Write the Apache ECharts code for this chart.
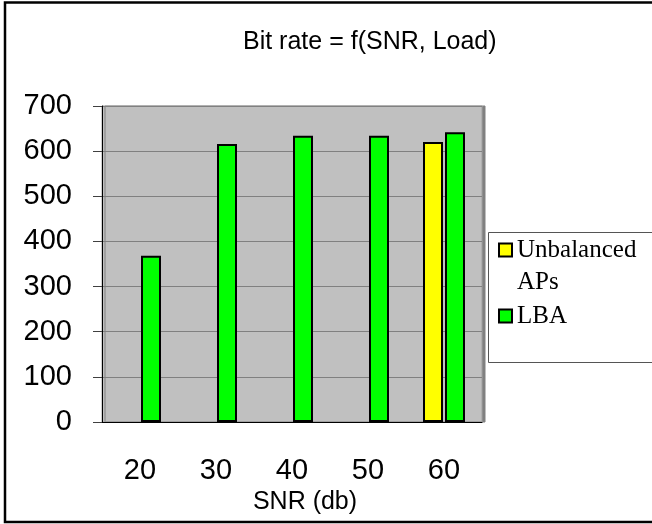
<!DOCTYPE html>
<html>
<head>
<meta charset="utf-8">
<script src="https://cdn.jsdelivr.net/npm/echarts@6/dist/echarts.min.js"></script>
<style>
  html, body { margin: 0; padding: 0; background: #fff; }
</style>
</head>
<body>
<div id="main" style="width: 652px; height: 524px;"></div>
<script>
var snrLevels = ['20', '30', '40', '50', '60']
var unbalancedAPs = [null, null, null, null, 620]
var lba = [368, 616, 634, 634, 642]
var yTicks = { min: 0, max: 700, step: 100 }

var chartDom = document.getElementById('main');
var myChart = echarts.init(chartDom);

var barBorder = { borderColor: '#000', borderWidth: 2 }

var option = {
  animation: false,
  title: {
    text: 'Bit rate = f(SNR, Load)',
    left: 243,
    top: 30,
    padding: 0,
    textStyle: {
      fontFamily: 'Liberation Sans',
      fontWeight: 'normal',
      fontSize: 25,
      color: '#000'
    }
  },
  legend: {
    orient: 'vertical',
    left: 498,
    top: 202,
    padding: 0,
    itemWidth: 13,
    itemHeight: 13,
    itemGap: 2,
    icon: 'rect',
    itemStyle: { borderColor: '#000', borderWidth: 2 },
    textStyle: {
      fontFamily: 'Liberation Serif',
      fontSize: 25,
      lineHeight: 32,
      color: '#000'
    },
    // blank first line keeps the icon level with "Unbalanced"
    formatter: function (name) {
      return name.indexOf('\n') > -1 ? '\n' + name : name
    },
    data: ['Unbalanced\nAPs', 'LBA']
  },
  graphic: [
    {
      type: 'rect',
      z: -1,
      shape: { x: 488.5, y: 232.5, width: 200, height: 130 },
      style: { fill: '#fff', stroke: '#555', lineWidth: 1 }
    },
    {
      type: 'rect',
      z: 100,
      shape: { x: 5, y: 2.5, width: 700, height: 519.5 },
      style: { fill: 'none', stroke: '#000', lineWidth: 2.5 }
    }
  ],
  grid: {
    left: 102,
    right: 170,
    top: 106,
    bottom: 102,
    show: true,
    backgroundColor: '#C0C0C0',
    borderColor: '#A0A0A0',
    borderWidth: 1,
    shadowColor: '#808080',
    shadowOffsetX: 3,
    shadowOffsetY: 0
  },
  xAxis: {
    type: 'category',
    data: snrLevels,
    name: 'SNR (db)',
    nameLocation: 'middle',
    nameGap: 62,
    nameTextStyle: {
      fontFamily: 'Liberation Sans',
      fontSize: 25,
      color: '#000',
      padding: [0, 0, 0, 26]
    },
    axisLine: { lineStyle: { color: '#000', width: 1 } },
    axisTick: { length: 10, lineStyle: { color: '#404040' } },
    axisLabel: {
      margin: 34,
      fontFamily: 'Liberation Sans',
      fontSize: 29,
      color: '#000'
    }
  },
  yAxis: {
    type: 'value',
    min: yTicks.min,
    max: yTicks.max,
    interval: yTicks.step,
    axisLine: { show: true, lineStyle: { color: '#000', width: 1 } },
    axisTick: { show: true, length: 9, lineStyle: { color: '#404040' } },
    splitLine: { lineStyle: { color: '#808080', width: 1 } },
    axisLabel: {
      margin: 30,
      fontFamily: 'Liberation Sans',
      fontSize: 29,
      color: '#000'
    }
  },
  series: [
    {
      name: 'Unbalanced\nAPs',
      type: 'bar',
      barWidth: 20,
      barGap: '10%',
      itemStyle: Object.assign({ color: '#FFFF00' }, barBorder),
      data: unbalancedAPs
    },
    {
      name: 'LBA',
      type: 'bar',
      barWidth: 20,
      barGap: '10%',
      itemStyle: Object.assign({ color: '#00FF00' }, barBorder),
      data: lba
    }
  ]
};

option && myChart.setOption(option);
</script>
</body>
</html>
